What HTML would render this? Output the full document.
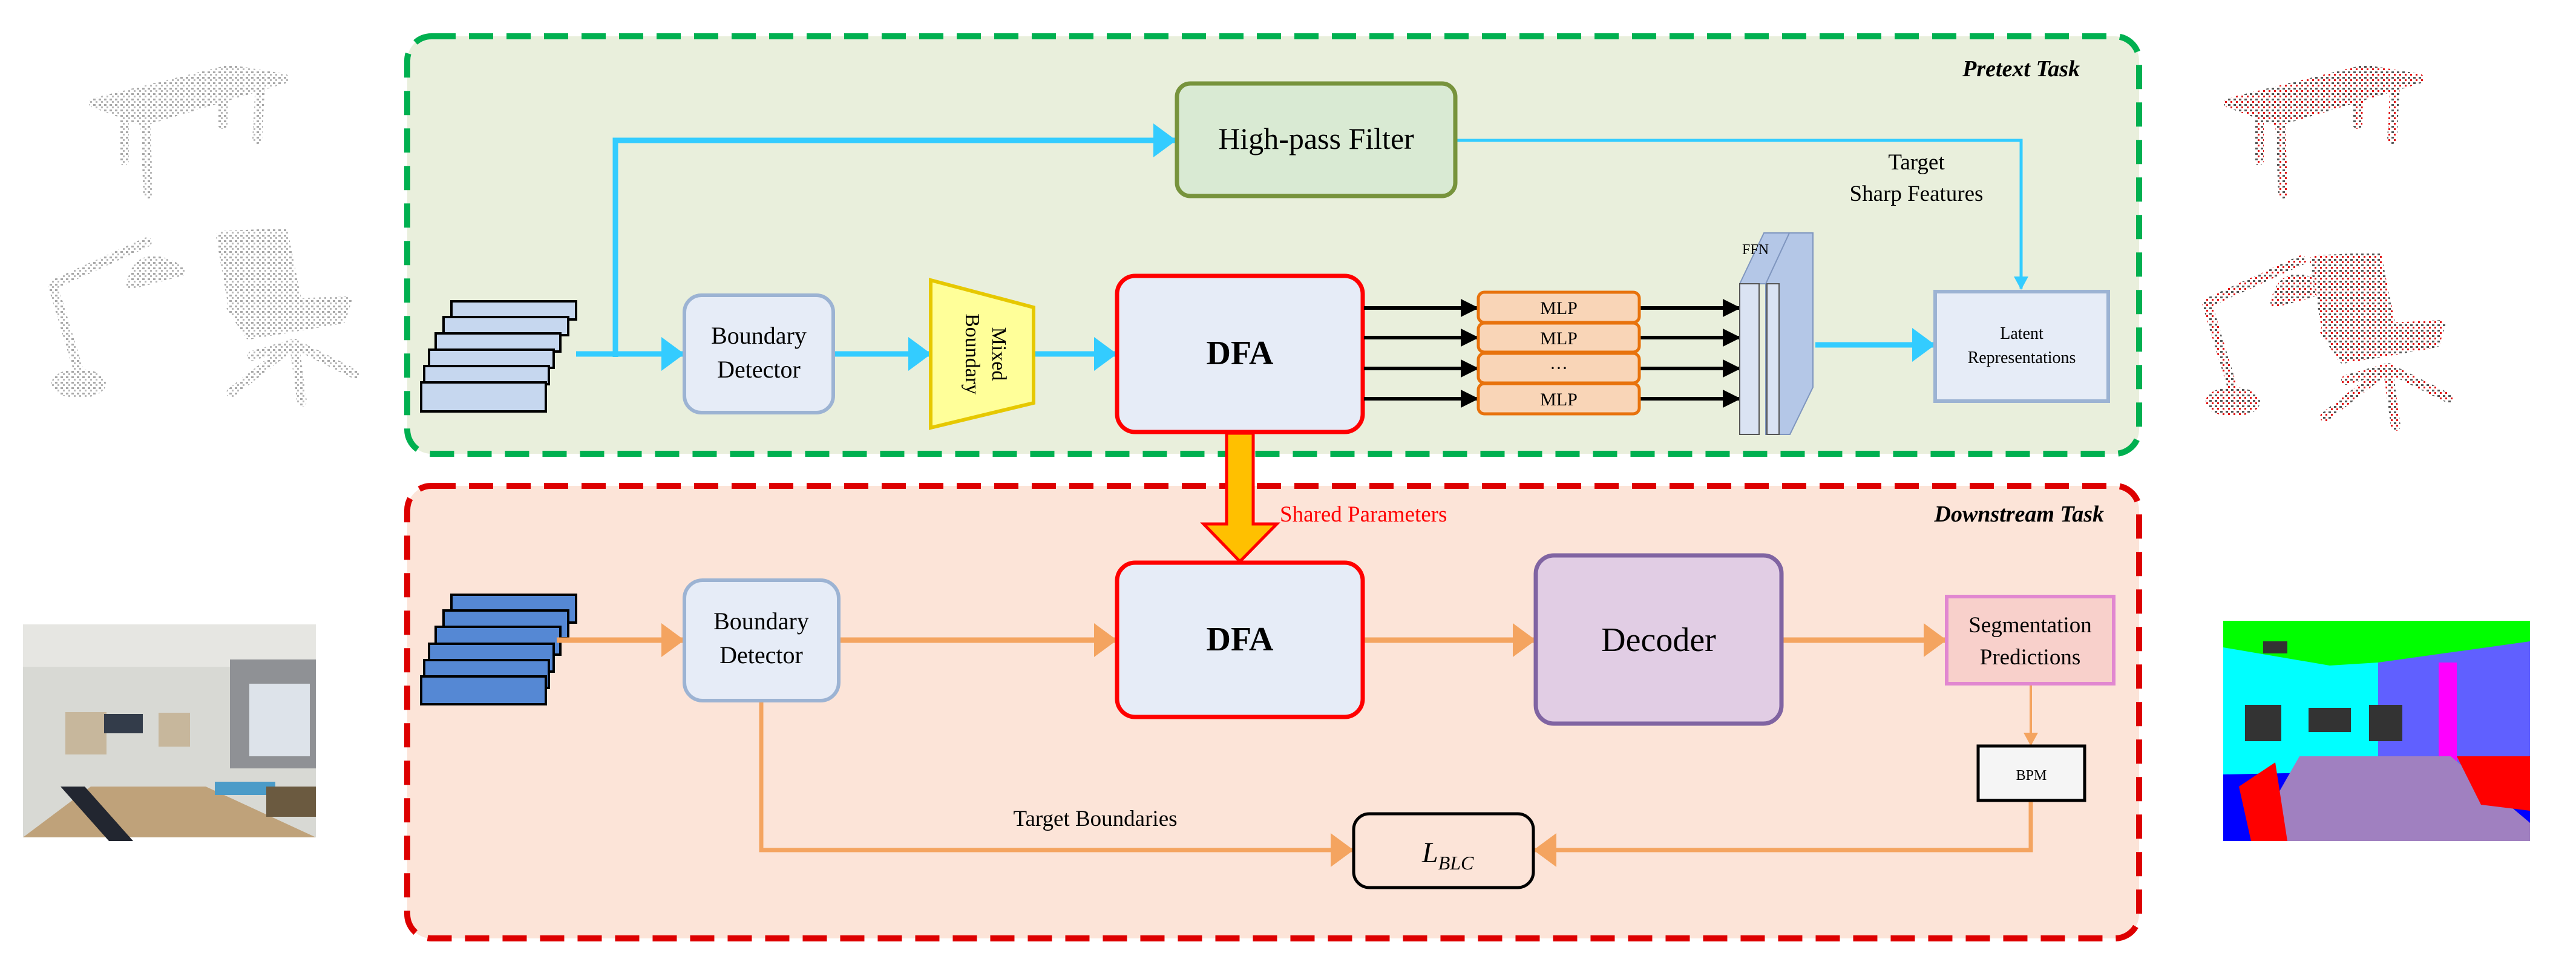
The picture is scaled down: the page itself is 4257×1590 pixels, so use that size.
<!DOCTYPE html>
<html><head><meta charset="utf-8"><style>
html,body{margin:0;padding:0;background:#fff;width:4257px;height:1590px;overflow:hidden}
svg text{font-family:"Liberation Serif",serif}
</style></head><body>
<svg width="4257" height="1590" viewBox="0 0 4257 1590" xmlns="http://www.w3.org/2000/svg">
<defs>
<marker id="ab" markerWidth="38" markerHeight="56" refX="36" refY="28" orient="auto" markerUnits="userSpaceOnUse"><path d="M0,0 L38,28 L0,56 z" fill="#33ccff"/></marker>
<marker id="abs" markerWidth="22" markerHeight="60" refX="20" refY="12" orient="auto" markerUnits="userSpaceOnUse"><path d="M0,0 L22,12 L0,24 z" fill="#33ccff"/></marker>
<marker id="ao" markerWidth="38" markerHeight="56" refX="36" refY="28" orient="auto" markerUnits="userSpaceOnUse"><path d="M0,0 L38,28 L0,56 z" fill="#f4a460"/></marker>
<marker id="aos" markerWidth="22" markerHeight="24" refX="20" refY="12" orient="auto" markerUnits="userSpaceOnUse"><path d="M0,0 L22,12 L0,24 z" fill="#f4a460"/></marker>
<marker id="ak" markerWidth="30" markerHeight="30" refX="28" refY="15" orient="auto" markerUnits="userSpaceOnUse"><path d="M0,0 L30,15 L0,30 z" fill="#000"/></marker>
<pattern id="pg" width="9" height="9" patternUnits="userSpaceOnUse"><rect width="9" height="9" fill="#fff"/><rect x="1" y="1" width="4" height="3" fill="#a8a8a8"/><rect x="5" y="5" width="3" height="3" fill="#b8b8b8"/></pattern>
<pattern id="pr" width="9" height="9" patternUnits="userSpaceOnUse"><rect width="9" height="9" fill="#fff"/><rect x="1" y="1" width="4" height="3" fill="#555"/><rect x="5" y="5" width="3" height="3" fill="#e01010"/></pattern>
</defs>

<g stroke="url(#pg)" stroke-width="16" fill="url(#pg)" stroke-linecap="round" stroke-linejoin="round">
<path d="M155,170 L380,115 L470,130 L237,200 Z"/>
<path d="M205,195 L205,265 M240,200 L245,320 M370,120 L368,205 M430,140 L425,230" fill="none"/>
<ellipse cx="130" cy="634" rx="37" ry="16"/>
<path d="M130,613 L87,471 L243,400" fill="none"/>
<path d="M217,470 Q230,405 300,448 Z"/>
<path d="M365,390 L468,385 L490,495 L385,505 Z"/>
<path d="M382,507 L573,497 L564,527 L412,553 Z"/>
<path d="M486,568 L382,649 M486,568 L586,618 M486,568 L499,664 M486,568 L417,588" fill="none"/>
</g>
<g stroke="url(#pr)" stroke-width="16" fill="url(#pr)" stroke-linecap="round" stroke-linejoin="round" transform="translate(3528,0)">
<path d="M155,170 L380,115 L470,130 L237,200 Z"/>
<path d="M205,195 L205,265 M240,200 L245,320 M370,120 L368,205 M430,140 L425,230" fill="none"/>
</g>
<g stroke="url(#pr)" stroke-width="16" fill="url(#pr)" stroke-linecap="round" stroke-linejoin="round" transform="translate(3560,30)">
<ellipse cx="130" cy="634" rx="37" ry="16"/>
<path d="M130,613 L87,471 L243,400" fill="none"/>
<path d="M200,470 Q215,405 280,448 Z"/>
</g>
<g stroke="url(#pr)" stroke-width="16" fill="url(#pr)" stroke-linecap="round" stroke-linejoin="round" transform="translate(3460,40)">
<path d="M365,390 L468,385 L490,495 L385,505 Z"/>
<path d="M382,507 L573,497 L564,527 L412,553 Z"/>
<path d="M486,568 L382,649 M486,568 L586,618 M486,568 L499,664 M486,568 L417,588" fill="none"/>
</g>
<rect x="38" y="1032" width="484" height="352" fill="#d8d9d4"/>
<rect x="38" y="1032" width="484" height="70" fill="#e6e6e2"/>
<rect x="380" y="1090" width="142" height="180" fill="#8f9195"/>
<rect x="412" y="1130" width="100" height="120" fill="#dde3ea"/>
<rect x="108" y="1177" width="68" height="70" fill="#c7b79c"/>
<rect x="172" y="1180" width="64" height="32" fill="#333c4a"/>
<rect x="262" y="1178" width="52" height="56" fill="#c7b79c"/>
<path d="M38,1384 L150,1300 L340,1300 L522,1384 Z" fill="#bfa27a"/>
<rect x="355" y="1292" width="100" height="22" fill="#4b9bc8"/>
<rect x="440" y="1300" width="82" height="50" fill="#6b5a40"/>
<path d="M100,1300 L180,1390 L220,1390 L140,1300 Z" fill="#222630"/>
<rect x="3674" y="1026" width="507" height="364" fill="#0000ff"/>
<rect x="3674" y="1026" width="507" height="80" fill="#00ff00"/>
<path d="M3674,1070 L3850,1100 L3930,1095 L4181,1070 L4181,1270 L3674,1280 Z" fill="#00ffff"/>
<path d="M3930,1095 L4181,1060 L4181,1300 L3930,1260 Z" fill="#6060ff"/>
<rect x="4030" y="1095" width="30" height="170" fill="#ff00ff"/>
<rect x="3710" y="1165" width="60" height="60" fill="#333"/>
<rect x="3815" y="1170" width="70" height="40" fill="#333"/>
<rect x="3915" y="1165" width="55" height="60" fill="#333"/>
<rect x="3740" y="1060" width="40" height="20" fill="#333"/>
<path d="M3720,1390 L3800,1250 L4050,1250 L4181,1360 L4181,1390 Z" fill="#a080c0"/>
<path d="M3700,1300 L3760,1260 L3780,1390 L3720,1390 Z" fill="#ff0000"/>
<path d="M4060,1250 L4181,1250 L4181,1340 L4100,1330 Z" fill="#ff0000"/>

<rect x="673" y="60" width="2862" height="690" rx="40" fill="#e9efdc" stroke="#00b050" stroke-width="10" stroke-dasharray="40 22"/>
<rect x="673" y="803" width="2862" height="748" rx="40" fill="#fce4d8" stroke="#dd0000" stroke-width="10" stroke-dasharray="40 22"/>
<text x="3437" y="126" font-size="38" font-style="italic" font-weight="bold" text-anchor="end">Pretext Task</text>
<text x="3477" y="862" font-size="38" font-style="italic" font-weight="bold" text-anchor="end">Downstream Task</text>

<path d="M1017,590 L1017,232 L1942,232" stroke="#33ccff" stroke-width="9" fill="none" marker-end="url(#ab)"/>
<path d="M2408,232 L3340,232 L3340,477" stroke="#33ccff" stroke-width="5" fill="none" marker-end="url(#abs)"/>
<path d="M952,585 L1129,585" stroke="#33ccff" stroke-width="9" fill="none" marker-end="url(#ab)"/>
<path d="M1379,585 L1537,585" stroke="#33ccff" stroke-width="9" fill="none" marker-end="url(#ab)"/>
<path d="M1710,585 L1844,585" stroke="#33ccff" stroke-width="9" fill="none" marker-end="url(#ab)"/>
<path d="M3000,570 L3196,570" stroke="#33ccff" stroke-width="9" fill="none" marker-end="url(#ab)"/>

<rect x="1945" y="138" width="460" height="186" rx="22" fill="#d9ead3" stroke="#77933c" stroke-width="7"/>
<text x="2175" y="246" font-size="50" text-anchor="middle">High-pass Filter</text>
<text x="3167" y="280" font-size="37" text-anchor="middle">Target</text>
<text x="3167" y="332" font-size="37" text-anchor="middle">Sharp Features</text>

<g fill="#c6d7ef" stroke="#000" stroke-width="4">
<rect x="746" y="498" width="206" height="30"/><rect x="733" y="524" width="206" height="30"/><rect x="720" y="551" width="206" height="30"/><rect x="709" y="578" width="206" height="30"/><rect x="701" y="605" width="206" height="30"/><rect x="696" y="632" width="206" height="48"/>
</g>
<rect x="1131" y="488" width="246" height="194" rx="28" fill="#e6ecf7" stroke="#9cb3d3" stroke-width="6"/>
<text x="1254" y="568" font-size="40" text-anchor="middle">Boundary</text>
<text x="1254" y="624" font-size="40" text-anchor="middle">Detector</text>
<path d="M1538,463 L1708,508 L1708,666 L1538,707 Z" fill="#ffff99" stroke="#e6c800" stroke-width="6"/>
<text transform="translate(1640,585) rotate(90)" font-size="34" text-anchor="middle" font-family="Liberation Sans, sans-serif">Mixed</text>
<text transform="translate(1596,585) rotate(90)" font-size="34" text-anchor="middle" font-family="Liberation Sans, sans-serif">Boundary</text>

<rect x="1846" y="456" width="406" height="258" rx="30" fill="#e6ecf7" stroke="#ff0000" stroke-width="7"/>
<text x="2049" y="602" font-size="56" font-weight="bold" text-anchor="middle">DFA</text>

<g stroke="#000" stroke-width="6" fill="none">
<path d="M2254,509 L2442,509" marker-end="url(#ak)"/><path d="M2254,558 L2442,558" marker-end="url(#ak)"/><path d="M2254,609 L2442,609" marker-end="url(#ak)"/><path d="M2254,659 L2442,659" marker-end="url(#ak)"/>
<path d="M2710,509 L2875,509" marker-end="url(#ak)"/><path d="M2710,558 L2875,558" marker-end="url(#ak)"/><path d="M2710,609 L2875,609" marker-end="url(#ak)"/><path d="M2710,659 L2875,659" marker-end="url(#ak)"/>
</g>
<g fill="#f9d5b7" stroke="#e8720c" stroke-width="5">
<rect x="2443" y="483" width="266" height="50" rx="10"/><rect x="2443" y="534" width="266" height="48" rx="10"/><rect x="2443" y="584" width="266" height="49" rx="10"/><rect x="2443" y="634" width="266" height="50" rx="10"/>
</g>
<g font-size="30" text-anchor="middle"><text x="2576" y="519">MLP</text><text x="2576" y="569">MLP</text><text x="2576" y="618">···</text><text x="2576" y="670">MLP</text></g>

<g fill="#b4c7e7" stroke="#7f96bf" stroke-width="2">
<path d="M2918,469 L2957,385 L2996,385 L2996,640 L2958,718 L2918,718 Z"/>
<path d="M2875,469 L2915,385 L2957,385 L2918,469 Z"/>
</g>
<rect x="2875" y="469" width="32" height="249" fill="#dae3f3" stroke="#555" stroke-width="2"/>
<rect x="2920" y="469" width="20" height="249" fill="#dae3f3" stroke="#555" stroke-width="2"/>
<text x="2879" y="420" font-size="24">FFN</text>

<rect x="3198" y="482" width="286" height="181" fill="#e6ecf7" stroke="#9cb3d3" stroke-width="6"/>
<text x="3341" y="560" font-size="28" text-anchor="middle">Latent</text>
<text x="3341" y="600" font-size="28" text-anchor="middle">Representations</text>

<path d="M2027,716 L2071,716 L2071,866 L2110,866 L2049,928 L1989,866 L2027,866 Z" fill="#ffc000" stroke="#ff0000" stroke-width="5"/>
<text x="2115" y="862" font-size="37" fill="#ff0000">Shared Parameters</text>

<g fill="#5588d4" stroke="#000" stroke-width="4">
<rect x="746" y="983" width="206" height="46"/><rect x="733" y="1009" width="206" height="46"/><rect x="720" y="1036" width="206" height="46"/><rect x="709" y="1064" width="206" height="46"/><rect x="701" y="1091" width="206" height="46"/><rect x="696" y="1118" width="206" height="46"/>
</g>
<g stroke="#f4a460" stroke-width="9" fill="none">
<path d="M920,1058 L1129,1058" marker-end="url(#ao)"/>
<path d="M1388,1058 L1844,1058" marker-end="url(#ao)"/>
<path d="M2254,1058 L2536,1058" marker-end="url(#ao)"/>
<path d="M2946,1058 L3215,1058" marker-end="url(#ao)"/>
<path d="M1258,1160 L1258,1405 L2235,1405" stroke-width="7" marker-end="url(#ao)"/>
<path d="M3356,1325 L3356,1405 L2536,1405" stroke-width="7" marker-end="url(#ao)"/>
<path d="M3356,1132 L3356,1231" stroke-width="4" marker-end="url(#aos)"/>
</g>
<rect x="1131" y="959" width="255" height="199" rx="30" fill="#e6ecf7" stroke="#9cb3d3" stroke-width="6"/>
<text x="1258" y="1040" font-size="40" text-anchor="middle">Boundary</text>
<text x="1258" y="1096" font-size="40" text-anchor="middle">Detector</text>
<rect x="1846" y="930" width="406" height="255" rx="30" fill="#e6ecf7" stroke="#ff0000" stroke-width="7"/>
<text x="2049" y="1075" font-size="56" font-weight="bold" text-anchor="middle">DFA</text>
<rect x="2538" y="918" width="406" height="278" rx="30" fill="#e1cde4" stroke="#8064a2" stroke-width="7"/>
<text x="2741" y="1076" font-size="56" text-anchor="middle">Decoder</text>
<rect x="3217" y="986" width="276" height="144" fill="#f8d0cb" stroke="#e187d0" stroke-width="6"/>
<text x="3355" y="1045" font-size="37" text-anchor="middle">Segmentation</text>
<text x="3355" y="1098" font-size="37" text-anchor="middle">Predictions</text>
<rect x="3269" y="1233" width="176" height="90" fill="#f5f5f5" stroke="#000" stroke-width="5"/>
<text x="3357" y="1289" font-size="24" text-anchor="middle">BPM</text>
<rect x="2237" y="1345" width="297" height="122" rx="26" fill="#fce4d8" stroke="#000" stroke-width="5"/>
<text x="2350" y="1425" font-size="48" font-style="italic">L<tspan font-size="32" dy="12">BLC</tspan></text>
<text x="1810" y="1365" font-size="37" text-anchor="middle">Target Boundaries</text>
</svg>
</body></html>
